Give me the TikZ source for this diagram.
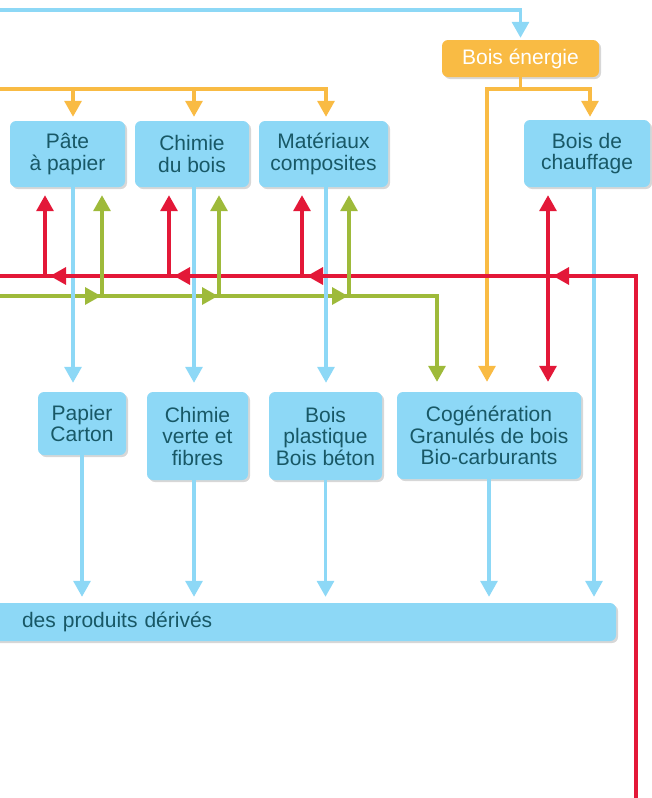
\documentclass[tikz,border=0pt]{standalone}
\usepackage{fontspec}
\setmainfont{Liberation Sans}
\usepackage{xcolor}
\usetikzlibrary{arrows.meta}
\usetikzlibrary{shadows}
\definecolor{boxblue}{RGB}{141,216,246}
\definecolor{boxtext}{RGB}{24,88,102}
\definecolor{woodorange}{RGB}{249,187,68}
\definecolor{flowred}{RGB}{227,24,56}
\definecolor{flowgreen}{RGB}{158,186,58}
\tikzstyle{prodbox} = [fill=boxblue, text=boxtext, rounded corners=6pt,
align=center, inner sep=0pt, font=\fontsize{21}{21.5}\selectfont,
drop shadow={shadow xshift=2pt, shadow yshift=-2pt, fill=black!45, opacity=0.35}]
\tikzstyle{energybox} = [prodbox, fill=woodorange, text=white]
\tikzstyle{flowline} = [line width=3.3pt]
\tikzstyle{flow} = [flowline, -{Triangle[length=16pt,width=17pt]}]
\tikzstyle{flowboth} = [flowline, {Triangle[length=16pt,width=17pt]}-{Triangle[length=16pt,width=17pt]}]

\begin{document}
\begin{tikzpicture}[x=1pt,y=-1pt]
    \useasboundingbox (0,0) rectangle (652,798);
    % boxes
    \node[energybox, minimum width=157pt, minimum height=37pt] (energie) at (520.5,58.5) {Bois énergie};
    \node[prodbox, minimum width=115pt, minimum height=66pt] (pate) at (67.5,154) {Pâte\\à papier};
    \node[prodbox, minimum width=114pt, minimum height=66pt] (chimie) at (192,154) {Chimie\\du bois};
    \node[prodbox, minimum width=129pt, minimum height=66pt] (materiaux) at (323.5,154) {Matériaux\\composites};
    \node[prodbox, minimum width=126pt, minimum height=67pt] (chauffage) at (587,153.5) {Bois de\\chauffage};
    \node[prodbox, minimum width=88pt, minimum height=63pt] (papier) at (82,423.5) {Papier\\Carton};
    \node[prodbox, minimum width=101pt, minimum height=88pt] (verte) at (197.5,436) {Chimie\\verte et\\fibres};
    \node[prodbox, minimum width=113pt, minimum height=88pt] (plastique) at (325.5,436) {Bois\\plastique\\Bois béton};
    \node[prodbox, minimum width=184pt, minimum height=87pt] (cogen) at (489,435.5) {Cogénération\\Granulés de bois\\Bio-carburants};
    \node[prodbox, minimum height=38pt, inner xsep=66pt, text width=528pt, align=left] (derives) at (286,622) {des produits dérivés};

    % columns and rows
    \coordinate (bluein) at (0,10);
    \coordinate (orangein) at (0,89);
    \coordinate (esplit) at (520.5,89);
    \coordinate (redin) at (636,798);
    \coordinate (redout) at (0,276);
    \coordinate (greenin) at (0,296);
    \coordinate (colA) at (73,0);
    \coordinate (colB) at (194,0);
    \coordinate (colC) at (326,0);
    \coordinate (colD) at (594,0);
    \coordinate (eleft) at (487,0);
    \coordinate (eright) at (590,0);
    \coordinate (r1) at (45,276);
    \coordinate (r2) at (169,276);
    \coordinate (r3) at (302,276);
    \coordinate (r4) at (548,276);
    \coordinate (g1) at (102,296);
    \coordinate (g2) at (219,296);
    \coordinate (g3) at (349,296);
    \coordinate (g4) at (437,296);

    % green line under the blue ones
    \draw[flow, flowgreen, shorten >=10pt] (greenin) -| (g4 |- cogen.north);

    % blue
    \draw[flow, boxblue, shorten >=2pt] (bluein) -| (energie.north);
    \draw[flow, boxblue, shorten >=9pt] (pate.south -| colA) -- (papier.north -| colA);
    \draw[flow, boxblue, shorten >=9pt] (chimie.south -| colB) -- (verte.north -| colB);
    \draw[flow, boxblue, shorten >=9pt] (materiaux.south -| colC) -- (plastique.north -| colC);
    \draw[flow, boxblue, shorten >=6pt] (chauffage.south -| colD) -- (derives.north -| colD);
    \draw[flow, boxblue, shorten >=6pt] (papier.south) -- (derives.north -| papier.south);
    \draw[flow, boxblue, shorten >=6pt] (verte.south -| colB) -- (derives.north -| colB);
    \draw[flow, boxblue, shorten >=6pt] (plastique.south) -- (derives.north -| plastique.south);
    \draw[flow, boxblue, shorten >=6pt] (cogen.south) -- (derives.north -| cogen.south);

    % orange
    \draw[flow, woodorange, shorten >=4pt] (orangein) -| (materiaux.north -| colC);
    \draw[flow, woodorange, shorten >=4pt] (orangein -| colA) -- (pate.north -| colA);
    \draw[flow, woodorange, shorten >=4pt] (orangein -| colB) -- (chimie.north -| colB);
    \draw[flowline, woodorange] (energie.south) -- (esplit);
    \draw[flow, woodorange, shorten >=3pt] (esplit) -| (chauffage.north -| eright);
    \draw[flow, woodorange, shorten >=10pt] (esplit) -| (cogen.north -| eleft);

    % red
    \draw[flowline, flowred] (redin) |- (redout);
    \foreach \r/\n in {r1/pate, r2/chimie, r3/materiaux}
        \draw[flow, flowred, shorten >=8pt] (\r) -- (\r |- \n.south);
    \draw[flowboth, flowred, shorten <=8pt, shorten >=10pt] (r4 |- chauffage.south) -- (r4 |- cogen.north);
    \foreach \r in {r1, r2, r3, r4}
        \draw[flow, flowred] ([xshift=21pt]\r) -- ([xshift=5pt]\r);

    % green
    \foreach \g/\n in {g1/pate, g2/chimie, g3/materiaux}
        \draw[flow, flowgreen, shorten >=8pt] (\g) -- (\g |- \n.south);
    \foreach \g in {g1, g2, g3}
        \draw[flow, flowgreen] ([xshift=-17pt]\g) -- ([xshift=-1pt]\g);
\end{tikzpicture}
\end{document}
